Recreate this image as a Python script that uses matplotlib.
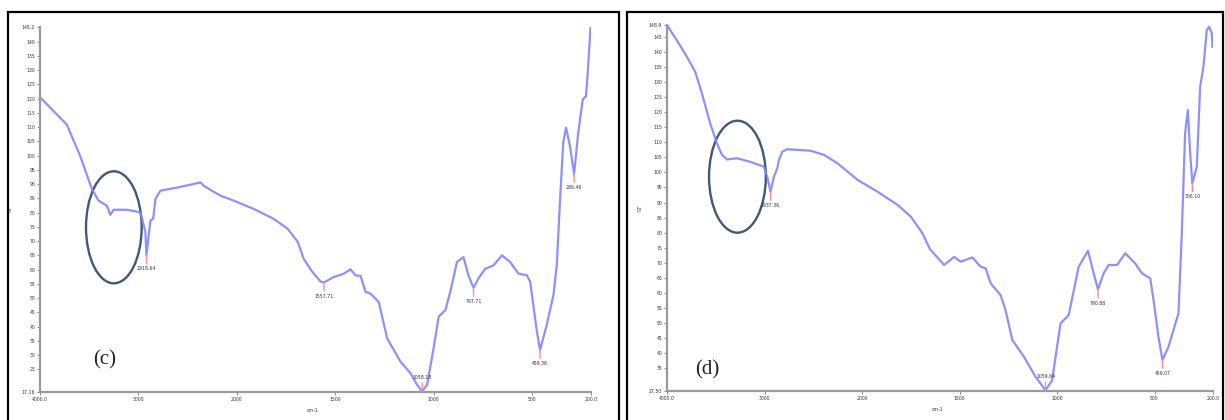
import numpy as np
import matplotlib
matplotlib.use("Agg")
import matplotlib.pyplot as plt
from matplotlib.patches import Ellipse, Rectangle

# spectrum (c): wavenumber (cm-1) and %T
wn_c = [4000, 3728, 3592, 3473, 3405, 3319, 3286, 3252, 3115, 2980, 2929, 2918,
        2878, 2850, 2827, 2776, 2605, 2367, 2337, 2163, 2031, 1914, 1812, 1741,
        1691, 1660, 1616, 1574, 1557, 1507, 1456, 1422, 1397, 1371, 1346, 1321,
        1279, 1236, 1169, 1118, 1084, 1058, 1033, 1000, 974, 940, 915, 881, 848,
        823, 797, 772, 738, 695, 653, 611, 569, 526, 509, 493, 475, 459, 425,
        391, 374, 357, 341, 327, 307, 286, 265, 242, 226, 220, 202]
t_c = [120.5, 110.9, 99.9, 88.3, 84.2, 82.4, 79.2, 81.0, 81.0, 80.1, 73.3, 65.0,
       77.2, 77.8, 84.8, 87.7, 88.8, 90.6, 89.4, 85.9, 84.2, 81.3, 77.8, 74.3,
       69.8, 63.8, 59.2, 55.8, 55.5, 57.4, 58.6, 60.1, 58.0, 57.8, 52.2, 51.6,
       48.7, 35.9, 27.8, 23.7, 19.6, 17.3, 19.6, 32.4, 43.5, 45.8, 52.2, 62.7, 64.4,
       58.0, 53.6, 56.9, 60.3, 61.5, 65.0, 62.7, 58.6, 58.0, 55.7, 47.5, 38.3, 31.8, 40.6,
       51.0, 61.5, 84.8, 104.6, 109.8, 103.4, 93.5, 108.0, 119.7, 120.8, 125.5, 145.2]

# spectrum (d)
wn_d = [4000, 3900, 3797, 3711, 3642, 3557, 3488, 3436, 3384, 3281, 3144, 3007,
        2972, 2938, 2904, 2869, 2852, 2817, 2766, 2526, 2389, 2250, 2044, 1920,
        1817, 1749, 1690, 1652, 1579, 1528, 1494, 1434, 1391, 1366, 1340, 1289,
        1264, 1229, 1170, 1110, 1059, 1025, 982, 940, 889, 841, 812, 790, 761,
        735, 692, 650, 599, 564, 522, 505, 480, 459, 428, 377, 360, 343, 329,
        317, 306, 283, 266, 249, 232, 220, 206, 203]
t_d = [148.8, 143.9, 138.4, 133.4, 126.2, 116.3, 109.6, 105.8, 104.3, 104.7, 103.5, 101.9,
       98.6, 93.6, 98.6, 101.3, 104.1, 106.9, 107.7, 107.2, 105.8, 103.0, 97.5, 93.6,
       89.2, 85.3, 79.8, 74.6, 69.3, 72.0, 70.4, 71.8, 68.7, 68.2, 63.2, 59.3,
       54.3, 44.4, 38.9, 32.2, 27.7, 31.1, 49.9, 52.7, 68.7, 74.0, 66.5, 61.2, 66.5,
       69.3, 69.3, 73.2, 69.8, 66.5, 64.9, 57.7, 45.5, 37.8, 42.2, 53.3, 79.8, 113.0, 120.7,
       106.3, 96.4, 101.9, 128.4, 135.0, 147.2, 148.3, 146.1, 141.7]

# marked peaks: wavenumber, %T, label, label below (-1) or above (+1)
pk_c = [(2918, 65.0, "2918.64", -1), (1557, 55.5, "1557.71", -1), (1058, 17.3, "1058.18", 1),
        (797, 53.6, "797.71", -1), (459, 31.8, "459.36", -1), (286, 93.5, "286.46", -1)]
pk_d = [(2938, 93.6, "2937.36", -1), (1059, 27.7, "1059.64", 1), (790, 61.2, "790.88", -1),
        (459, 37.8, "459.07", -1), (306, 96.4, "306.10", -1)]

xticks = [4000, 3000, 2000, 1500, 1000, 500, 200]
xticklabels = ["4000.0", "3000", "2000", "1500", "1000", "500", "200.0"]

ylim_c = (17.16, 145.2)
ylim_d = (27.5, 148.9)
yticks_c = list(range(25, 141, 5))
yticks_d = list(range(35, 146, 5))


# instrument-style split x scale: 1000 cm-1 per unit above 2000, 500 below
def fwd(x):
    x = np.asarray(x, dtype=float)
    return np.where(x >= 2000, x / 1000.0, x / 500.0 - 2.0)


def inv(u):
    u = np.asarray(u, dtype=float)
    return np.where(u >= 2, u * 1000.0, (u + 2.0) * 500.0)


fig = plt.figure(figsize=(12.25, 4.2), dpi=100)

# panel frames
fig.patches.append(Rectangle((8 / 1225, -0.05), 611 / 1225, 1.05 - 12 / 420, transform=fig.transFigure,
                             fill=False, edgecolor="black", linewidth=1.6))
fig.patches.append(Rectangle((627 / 1225, -0.05), 596 / 1225, 1.05 - 12 / 420, transform=fig.transFigure,
                             fill=False, edgecolor="black", linewidth=1.6))

ax_c = fig.add_axes([40 / 1225, 1 - 391.7 / 420, 551 / 1225, 364.9 / 420])
ax_d = fig.add_axes([667 / 1225, 1 - 391 / 420, 546 / 1225, 366 / 420])

panels = [
    (ax_c, wn_c, t_c, pk_c, ylim_c, yticks_c, "(c)", (0.118, 0.087), (0.134, 0.4505, 0.101, 0.307), -0.049),
    (ax_d, wn_d, t_d, pk_d, ylim_d, yticks_d, "(d)", (0.073, 0.059), (0.129, 0.5855, 0.104, 0.306), -0.044),
]

for ax, wn, t, pk, ylim, yt, tag, tagpos, ell, ylab_x in panels:
    ax.set_xscale("function", functions=(fwd, inv))
    ax.set_xlim(4000, 200)
    ax.set_ylim(*ylim)
    ax.plot(wn, t, color="#8385f8", linewidth=1.6, alpha=0.9, solid_joinstyle="round")

    for x, y, lab, d in pk:
        ax.annotate(lab, xy=(x, y), xytext=(0, 8 * d), textcoords="offset points",
                    ha="center", va="bottom" if d > 0 else "top", fontsize=3.3, color="#333333",
                    arrowprops=dict(arrowstyle="-", color="#ff8c8c", lw=1.0, shrinkA=0, shrinkB=0))

    ax.add_patch(Ellipse((ell[0], ell[1]), ell[2], ell[3], transform=ax.transAxes,
                         fill=False, edgecolor="#3f5a73", linewidth=1.7))

    ax.text(tagpos[0], tagpos[1], tag, transform=ax.transAxes, ha="center", va="center",
            fontsize=15, family="Liberation Serif", color="#222222")

    ax.set_xticks(xticks)
    ax.set_xticklabels(xticklabels)
    ax.xaxis.set_minor_locator(matplotlib.ticker.NullLocator())
    ticks = [ylim[0]] + yt + [ylim[1]]
    labels = ["%.2f" % ylim[0]] + [str(v) for v in yt] + ["%.1f" % ylim[1]]
    ax.set_yticks(ticks)
    ax.set_yticklabels(labels)
    ax.get_yticklabels()[-1].set_color("#bbbbbb")

    for s in ["top", "right"]:
        ax.spines[s].set_visible(False)
    for s in ["left", "bottom"]:
        ax.spines[s].set_color("#9a9a9a")
        ax.spines[s].set_linewidth(1.6)
    ax.tick_params(axis="both", labelsize=3.3, length=2, width=0.6, color="#777777",
                   labelcolor="#333333", pad=1.5)

    ax.set_xlabel("cm-1", fontsize=3.3, color="#333333")
    ax.xaxis.set_label_coords(0.495, -0.045)
    ax.set_ylabel("%T", fontsize=3.3, color="#333333")
    ax.yaxis.set_label_coords(ylab_x, 0.5)
    ax.patch.set_alpha(0)

fig.savefig("out.png", dpi=100)
